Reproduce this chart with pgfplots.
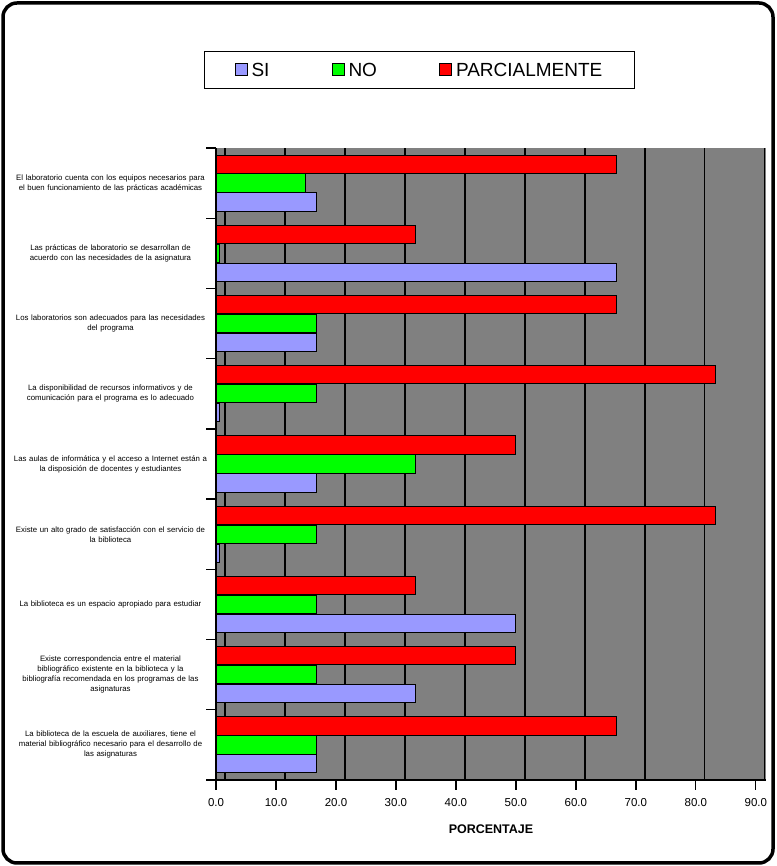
\documentclass[border=0pt]{standalone}
\usepackage{pgfplots}
\usepackage{pgfplotstable}
\pgfplotsset{compat=1.18}
\usepackage{fontspec}
\setmainfont{Liberation Sans}
\definecolor{siC}{HTML}{9999FF}
\definecolor{noC}{HTML}{00FF00}
\definecolor{paC}{HTML}{FF0000}
\definecolor{wallC}{HTML}{808080}
\pgfplotstableread{
y SI NO PARC
0 16.7 16.7 66.7
1 33.3 16.7 50.0
2 50.0 16.7 33.3
3 0.5 16.7 83.3
4 16.7 33.3 50.0
5 0.5 16.7 83.3
6 16.7 16.7 66.7
7 66.7 0.5 33.3
8 16.7 15.0 66.7
}\datatable
\begin{document}
\begin{tikzpicture}
\path (0pt,0pt) rectangle (776pt,866pt);
\draw[line width=3.5pt, rounded corners=14pt] (3pt,3pt) rectangle (773pt,863pt);
\begin{axis}[
  at={(216pt,86pt)}, anchor=south west,
  scale only axis, width=550pt, height=632pt,
  xmin=0, xmax=91.7, ymin=-0.5, ymax=8.5,
  xbar, bar width=0.26,
  axis lines=left,
  axis line style={-, black, line width=1.5pt},
  axis background/.style={fill=wallC},
  xtick={0,10,...,90},
  minor xtick={0,10,...,90},
  xmajorgrids,
  major grid style={black, line width=1.3pt, xshift=9pt},
  tick align=outside,
  major tick length=0pt,
  minor tick length=10pt,
  tick style={black, line width=1.3pt},
  ytick={0,...,8},
  minor ytick={-0.5,0.5,...,8.5},
  /pgf/number format/assume math mode=true,
  xticklabel style={font=\fontsize{11.5}{13}\selectfont, yshift=-15pt, /pgf/number format/.cd, fixed, fixed zerofill, precision=1},
  xlabel={\textbf{PORCENTAJE}},
  xlabel style={font=\fontsize{12.5}{14}\selectfont, yshift=-11pt},
  yticklabel style={font=\fontsize{7.8}{10}\selectfont, align=center, text width=200pt, xshift=-2pt},
  yticklabels={
    {La biblioteca de la escuela de auxiliares, tiene el\\material bibliográfico necesario para el desarrollo de\\las asignaturas},
    {Existe correspondencia entre el material\\bibliográfico existente en la biblioteca y la\\bibliografía recomendada en los programas de las\\asignaturas},
    {La biblioteca es un espacio apropiado para estudiar},
    {Existe un alto grado de satisfacción con el servicio de\\la biblioteca},
    {Las aulas de informática y el acceso a Internet están a\\la disposición de docentes y estudiantes},
    {La disponibilidad de recursos informativos y de\\comunicación para el programa es lo adecuado},
    {Los laboratorios son adecuados para las necesidades\\del programa},
    {Las prácticas de laboratorio se desarrollan de\\acuerdo con las necesidades de la asignatura},
    {El laboratorio cuenta con los equipos necesarios para\\el buen funcionamiento de las prácticas académicas}
  },
  legend style={at={(0.37,1.123)}, anchor=center, draw=black, line width=1.2pt,
    font=\fontsize{19}{21}\selectfont, legend columns=3,
    inner xsep=30pt, inner ysep=9pt,
    /tikz/every odd column/.append style={column sep=2pt},
    /tikz/every even column/.append style={column sep=60pt}},
  legend image code/.code={\draw[#1, draw=black, line width=1pt] (0pt,-5pt) rectangle (12pt,7pt);},
]
\addplot[fill=siC, draw=black, line width=1pt, bar shift=-0.27] table[x=SI, y=y] {\datatable};
\addplot[fill=noC, draw=black, line width=1pt, bar shift=0] table[x=NO, y=y] {\datatable};
\addplot[fill=paC, draw=black, line width=1pt, bar shift=0.27] table[x=PARC, y=y] {\datatable};
\legend{SI, NO, PARCIALMENTE}
\end{axis}
\end{tikzpicture}
\end{document}
